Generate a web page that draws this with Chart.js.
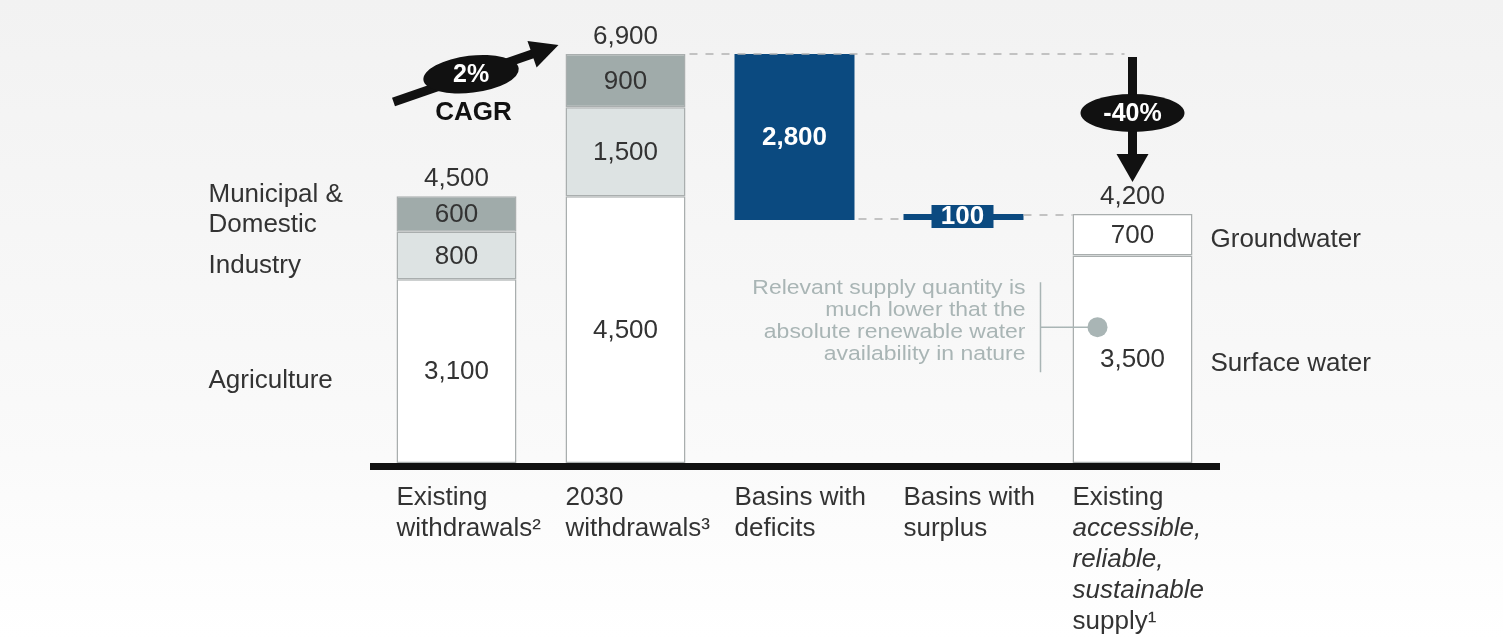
<!DOCTYPE html>
<html>
<head>
<meta charset="utf-8">
<script src="https://cdn.jsdelivr.net/npm/chart.js@4.4.1/dist/chart.umd.min.js"></script>
<style>
  html, body { margin: 0; padding: 0; background: #fff; }
  #wrap { position: relative; width: 1503px; height: 638px; }
</style>
</head>
<body>
<div id="wrap"><canvas id="chart"></canvas></div>
<script>
// water demand vs supply waterfall (billion m3)
const categories = [
    ['Existing', 'withdrawals²'],
    ['2030', 'withdrawals³'],
    ['Basins with', 'deficits'],
    ['Basins with', 'surplus'],
    ['Existing', 'accessible,', 'reliable,', 'sustainable', 'supply¹']
];
const italicLines = [[], [], [], [], [1, 2, 3]];

const agricultureSurface = [3100, 4500, null, null, 3500];
const industry = [800, 1500, null, null, null];
const municipal = [600, 900, null, null, null];
const groundwater = [null, null, null, null, 700];
const gapBars = [null, null, [4100, 6900], [4100, 4200], null];

const leftNames = [['Agriculture'], ['Industry'], ['Municipal &', 'Domestic']];
const rightNames = [['Surface water'], null, null, ['Groundwater']];
const cagrLabel = '2%';
const changeLabel = '-40%';
const noteLines = ['Relevant supply quantity is', 'much lower that the', 'absolute renewable water', 'availability in nature'];

const FONT = '"Liberation Sans", Arial, Helvetica, sans-serif';
const TEXT = '#333333';
const BLUE = '#0b4a80';
const NOTE = '#a9b5b5';
const EDGE = '#a9aeae';

const fmt = v => v.toLocaleString('en-US');

function text(ctx, s, x, y, font, color, align) {
    ctx.font = font;
    ctx.fillStyle = color;
    ctx.textAlign = align || 'center';
    ctx.textBaseline = 'middle';
    ctx.fillText(s, x, y);
}

function arrow(ctx, x0, y0, x1, y1, shaft, headLen, headW) {
    const ang = Math.atan2(y1 - y0, x1 - x0);
    const len = Math.hypot(x1 - x0, y1 - y0);
    ctx.save();
    ctx.translate(x0, y0);
    ctx.rotate(ang);
    ctx.fillStyle = '#111';
    ctx.fillRect(0, -shaft / 2, len - headLen + 1, shaft);
    ctx.beginPath();
    ctx.moveTo(len, 0);
    ctx.lineTo(len - headLen, -headW / 2);
    ctx.lineTo(len - headLen, headW / 2);
    ctx.closePath();
    ctx.fill();
    ctx.restore();
}

function bubble(ctx, cx, cy, w, h, rot, label) {
    ctx.save();
    ctx.fillStyle = '#111';
    ctx.beginPath();
    ctx.ellipse(cx, cy, w / 2, h / 2, rot, 0, Math.PI * 2);
    ctx.fill();
    text(ctx, label, cx, cy + 1, 'bold 25px ' + FONT, '#fff');
    ctx.restore();
}

const backdrop = {
    id: 'backdrop',
    beforeDraw(chart) {
        const ctx = chart.ctx;
        const g = ctx.createLinearGradient(0, 0, 0, chart.height);
        g.addColorStop(0, '#f2f2f2');
        g.addColorStop(0.72, '#fafafa');
        g.addColorStop(1, '#ffffff');
        ctx.save();
        ctx.fillStyle = g;
        ctx.fillRect(0, 0, chart.width, chart.height);
        ctx.restore();
    }
};

const overlay = {
    id: 'overlay',
    afterDatasetsDraw(chart) {
        const ctx = chart.ctx;
        const xs = chart.scales.x, ys = chart.scales.y;
        const bar = (d, i) => chart.getDatasetMeta(d).data[i];
        const base = ys.getPixelForValue(0);
        ctx.save();

        // dashed connectors
        const b2 = bar(0, 1), gap = bar(4, 2), sur = bar(4, 3), b5 = bar(0, 4);
        const top2 = ys.getPixelForValue(6900);
        ctx.strokeStyle = '#b3b3b3';
        ctx.lineWidth = 1.5;
        ctx.setLineDash([8, 8]);
        ctx.beginPath();
        ctx.moveTo(b2.x + b2.width / 2 + 4, top2);
        ctx.lineTo(b5.x - 8, top2);
        ctx.moveTo(gap.x + gap.width / 2 + 4, gap.base - 1);
        ctx.lineTo(sur.x - sur.width / 2, gap.base - 1);
        ctx.moveTo(sur.x + sur.width / 2, sur.y + 1);
        ctx.lineTo(b5.x - b5.width / 2, sur.y + 1);
        ctx.stroke();
        ctx.setLineDash([]);

        // axis
        ctx.fillStyle = '#111';
        ctx.fillRect(xs.left - 2, base, xs.right - xs.left + 5, 7);

        // segment values
        [0, 1, 2, 3].forEach(d => {
            chart.getDatasetMeta(d).data.forEach((el, i) => {
                const v = chart.data.datasets[d].data[i];
                if (v == null) return;
                text(ctx, fmt(v), el.x, (el.y + el.base) / 2 + 1, '26px ' + FONT, TEXT);
            });
        });

        // stack totals
        [0, 1, 4].forEach(i => {
            let total = 0;
            [0, 1, 2, 3].forEach(d => { total += chart.data.datasets[d].data[i] || 0; });
            text(ctx, fmt(total), xs.getPixelForValue(i), ys.getPixelForValue(total) - 17, '26px ' + FONT, TEXT);
        });

        // gap bars
        text(ctx, fmt(gapBars[2][1] - gapBars[2][0]), gap.x, (gap.y + gap.base) / 2 + 1, 'bold 26px ' + FONT, '#fff');
        const sy = (sur.y + sur.base) / 2;
        ctx.fillStyle = BLUE;
        ctx.fillRect(sur.x - 32, sy - 12, 62, 23);
        text(ctx, fmt(gapBars[3][1] - gapBars[3][0]), sur.x - 1, sy, 'bold 26px ' + FONT, '#fff');

        // category names beside the stacks
        const b1 = bar(0, 0);
        leftNames.forEach((lines, d) => {
            const el = bar(d, 0);
            const cy = (el.y + el.base) / 2 + (lines.length > 1 ? -4 : 10);
            lines.forEach((s, k) => {
                text(ctx, s, b1.x - b1.width / 2 - 188, cy + (k - (lines.length - 1) / 2) * 30, '26px ' + FONT, TEXT, 'left');
            });
        });
        rightNames.forEach((lines, d) => {
            if (!lines) return;
            const el = bar(d, 4);
            text(ctx, lines[0], el.x + el.width / 2 + 18, (el.y + el.base) / 2 + 5, '26px ' + FONT, TEXT, 'left');
        });

        // CAGR arrow
        const b1l = b1.x - b1.width / 2, b2l = b2.x - b2.width / 2;
        const tail = [b1l - 3, top2 + 48], tip = [b2l - 7, top2 - 9];
        arrow(ctx, tail[0], tail[1], tip[0], tip[1], 9, 28, 28);
        const t = 0.47;
        bubble(ctx, tail[0] + (tip[0] - tail[0]) * t, tail[1] + (tip[1] - tail[1]) * t - 1, 96, 37, -0.12, cagrLabel);
        text(ctx, 'CAGR', tail[0] + 80, tail[1] + 11, 'bold 26px ' + FONT, '#111');

        // -40% arrow
        const top5 = ys.getPixelForValue(4200);
        arrow(ctx, b5.x, top2 + 3, b5.x, top5 - 32, 9, 28, 32);
        bubble(ctx, b5.x, top2 + 59, 104, 38, 0, changeLabel);

        // note with pointer (source type is a wide-set face, stretch a little)
        const nx = sur.x + sur.width / 2 + 2;
        const ny = ys.getPixelForValue(2950);
        noteLines.forEach((s, k) => {
            ctx.save();
            ctx.translate(nx, ny + k * 22);
            ctx.scale(1.12, 1);
            text(ctx, s, 0, 0, '20.5px ' + FONT, NOTE, 'right');
            ctx.restore();
        });
        const bx = nx + 15;
        ctx.strokeStyle = NOTE;
        ctx.lineWidth = 1.5;
        ctx.beginPath();
        ctx.moveTo(bx, ny - 6);
        ctx.lineTo(bx, ny + 84);
        ctx.moveTo(bx, ny + 39);
        ctx.lineTo(b5.x - b5.width / 2 + 20, ny + 39);
        ctx.stroke();
        ctx.fillStyle = NOTE;
        ctx.beginPath();
        ctx.arc(b5.x - b5.width / 2 + 25, ny + 39, 10, 0, Math.PI * 2);
        ctx.fill();

        // category labels under the axis
        categories.forEach((lines, i) => {
            const lx = xs.getPixelForValue(i) - 60;
            lines.forEach((s, k) => {
                const it = italicLines[i].includes(k) ? 'italic ' : '';
                text(ctx, s, lx, base + 35 + k * 31, it + '26px ' + FONT, TEXT, 'left');
            });
        });

        ctx.restore();
    }
};

const stackStyle = { borderColor: EDGE, borderWidth: 1.5, borderSkipped: false, stack: 's' };

new Chart(document.getElementById('chart'), {
    type: 'bar',
    data: {
        labels: categories,
        datasets: [
            Object.assign({ label: 'Agriculture / Surface water', data: agricultureSurface, backgroundColor: '#ffffff' }, stackStyle),
            Object.assign({ label: 'Industry', data: industry, backgroundColor: '#dde3e3' }, stackStyle),
            Object.assign({ label: 'Municipal & Domestic', data: municipal, backgroundColor: '#a0abaa' }, stackStyle),
            Object.assign({ label: 'Groundwater', data: groundwater, backgroundColor: '#ffffff' }, stackStyle),
            { label: 'Gap', data: gapBars, backgroundColor: BLUE, borderWidth: 0, stack: 's' }
        ]
    },
    options: {
        responsive: true,
        maintainAspectRatio: false,
        animation: false,
        layout: { padding: { left: 372, right: 286, top: 54, bottom: 175 } },
        datasets: { bar: { barPercentage: 0.71, categoryPercentage: 1 } },
        scales: {
            x: { display: false, stacked: true },
            y: { display: false, stacked: true, min: 0, max: 6900 }
        },
        plugins: { legend: { display: false }, tooltip: { enabled: false } }
    },
    plugins: [backdrop, overlay]
});
</script>
</body>
</html>
